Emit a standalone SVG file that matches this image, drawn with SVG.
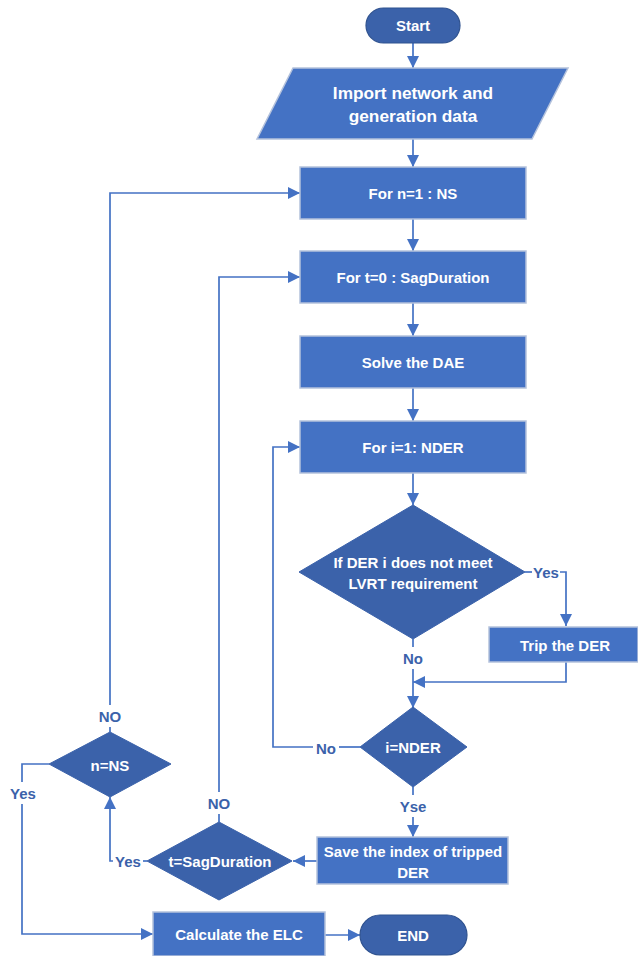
<svg xmlns="http://www.w3.org/2000/svg" width="638" height="956" viewBox="0 0 638 956">
<style>
.box{fill:#4472C4;stroke:#B4C2DC;stroke-width:1.5}
.dec{fill:#3B62AA;stroke:#3B62AA;stroke-width:1}
.term{fill:#3B62AA;stroke:#2F528F;stroke-width:1.2}
.t{font-family:"Liberation Sans",Arial,sans-serif;font-weight:bold;font-size:15px;fill:#fff;text-anchor:middle;dominant-baseline:central}
.big{font-size:17.3px}
.lbl{font-family:"Liberation Sans",Arial,sans-serif;font-weight:bold;font-size:15px;fill:#3B62AA;text-anchor:middle;dominant-baseline:central}
.c{fill:none;stroke:#4472C4;stroke-width:1.7}
</style>
<defs>
<marker id="a" viewBox="0 0 12 12" refX="12" refY="6" markerWidth="12" markerHeight="12" markerUnits="userSpaceOnUse" orient="auto">
<path d="M0,0 L12,6 L0,12 z" fill="#4472C4"/>
</marker>
</defs>
<g id="connectors">
<path class="c" d="M413,43 V68" marker-end="url(#a)"/>
<path class="c" d="M413,139 V167" marker-end="url(#a)"/>
<path class="c" d="M413,219 V251" marker-end="url(#a)"/>
<path class="c" d="M413,303 V336" marker-end="url(#a)"/>
<path class="c" d="M413,388 V421" marker-end="url(#a)"/>
<path class="c" d="M413,473 V505" marker-end="url(#a)"/>
<path class="c" d="M525,572 H532"/>
<path class="c" d="M560,572 H566 V626" marker-end="url(#a)"/>
<path class="c" d="M413,639 V647"/>
<path class="c" d="M413,669 V708" marker-end="url(#a)"/>
<path class="c" d="M566,662 V682 H413" marker-end="url(#a)"/>
<path class="c" d="M360,747 H339"/>
<path class="c" d="M313,747 H273 V447 H300" marker-end="url(#a)"/>
<path class="c" d="M413,787 V795"/>
<path class="c" d="M413,817 V837" marker-end="url(#a)"/>
<path class="c" d="M317,861 H293" marker-end="url(#a)"/>
<path class="c" d="M147,861 H143"/>
<path class="c" d="M113,861 H110 V797" marker-end="url(#a)"/>
<path class="c" d="M219,822 V814"/>
<path class="c" d="M219,792 V277 H300" marker-end="url(#a)"/>
<path class="c" d="M110,732 V727"/>
<path class="c" d="M110,705 V193 H300" marker-end="url(#a)"/>
<path class="c" d="M49,764 H22 V782"/>
<path class="c" d="M22,804 V934 H153" marker-end="url(#a)"/>
<path class="c" d="M325,935 H360" marker-end="url(#a)"/>
</g>
<g id="start">
<rect class="term" x="366" y="8" width="94" height="35" rx="17.5"/>
<text class="t" x="413" y="25.5">Start</text>
</g>
<g id="import">
<polygon class="box" points="293,68 568,68 532,139 257,139"/>
<text class="t big" x="413" y="93">Import network and</text>
<text class="t big" x="413" y="116">generation data</text>
</g>
<g id="forn">
<rect class="box" x="300" y="167" width="226" height="52"/>
<text class="t" x="413" y="193">For n=1 : NS</text>
</g>
<g id="fort">
<rect class="box" x="300" y="251" width="226" height="52"/>
<text class="t" x="413" y="277">For t=0 : SagDuration</text>
</g>
<g id="solve">
<rect class="box" x="300" y="336" width="226" height="52"/>
<text class="t" x="413" y="362">Solve the DAE</text>
</g>
<g id="fori">
<rect class="box" x="300" y="421" width="226" height="52"/>
<text class="t" x="413" y="447">For i=1: NDER</text>
</g>
<g id="lvrt">
<polygon class="dec" points="413,505 525,572 413,639 299,572"/>
<text class="t" x="413" y="562">If DER i does not meet</text>
<text class="t" x="413" y="583">LVRT requirement</text>
<text class="lbl" x="546" y="572">Yes</text>
<text class="lbl" x="413" y="658">No</text>
</g>
<g id="trip">
<rect class="box" x="489" y="627" width="149" height="35"/>
<text class="t" x="565" y="645">Trip the DER</text>
</g>
<g id="inder">
<polygon class="dec" points="413,707 467,747 413,787 360,747"/>
<text class="t" x="413" y="747">i=NDER</text>
<text class="lbl" x="326" y="748">No</text>
<text class="lbl" x="413" y="806">Yse</text>
</g>
<g id="save">
<rect class="box" x="317" y="837" width="191" height="47"/>
<text class="t" x="413" y="851">Save the index of tripped</text>
<text class="t" x="413" y="872">DER</text>
</g>
<g id="tsag">
<polygon class="dec" points="219,822 292,861 219,900 147,861"/>
<text class="t" x="220" y="861">t=SagDuration</text>
<text class="lbl" x="219" y="803">NO</text>
<text class="lbl" x="128" y="861">Yes</text>
</g>
<g id="nns">
<polygon class="dec" points="110,732 171,764 110,797 49,764"/>
<text class="t" x="110" y="765">n=NS</text>
<text class="lbl" x="110" y="716">NO</text>
<text class="lbl" x="23" y="793">Yes</text>
</g>
<g id="elc">
<rect class="box" x="153" y="912" width="172" height="44"/>
<text class="t" x="239" y="934">Calculate the ELC</text>
</g>
<g id="end">
<rect class="term" x="360" y="915" width="107" height="40" rx="20"/>
<text class="t" x="413" y="935">END</text>
</g>
</svg>
